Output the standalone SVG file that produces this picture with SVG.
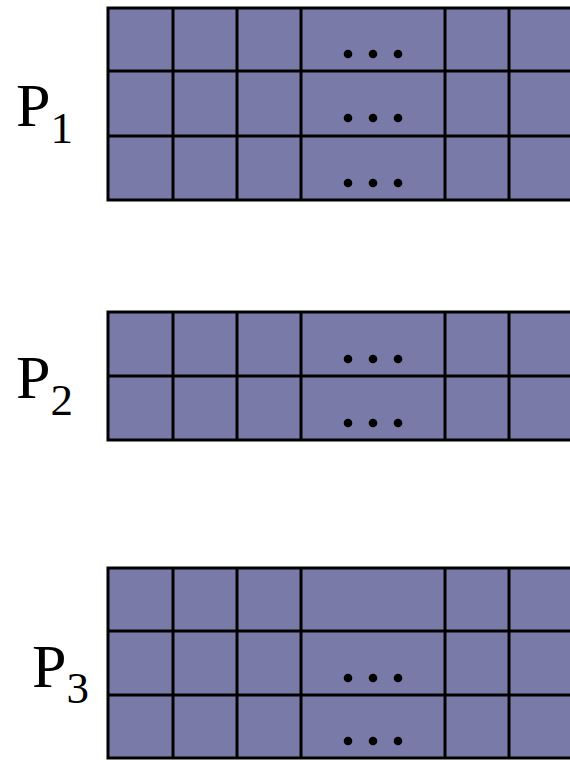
<svg xmlns="http://www.w3.org/2000/svg" width="570" height="760" viewBox="0 0 570 760">
<style>
.bg{fill:#7a7aa8;stroke:#000;stroke-width:3}
.ln{stroke:#000;stroke-width:3;fill:none}
.dot{fill:#000}
.lbl{font-family:"Liberation Serif","Times New Roman",serif;font-size:62px;fill:#000}
.sub{font-size:45px}
</style>
<defs>
<g id="dots">
<circle class="dot" cx="348" cy="0" r="4.3"/>
<circle class="dot" cx="373" cy="0" r="4.3"/>
<circle class="dot" cx="398" cy="0" r="4.3"/>
</g>
</defs>
<rect width="570" height="760" fill="#fff"/>
<g id="p1">
<rect class="bg" x="108" y="8" width="470" height="192"/>
<path class="ln" d="M108 71H578M108 136H578M173 8V200M237 8V200M301 8V200M445 8V200M509 8V200"/>
<use href="#dots" y="54"/>
<use href="#dots" y="118"/>
<use href="#dots" y="183"/>
<text class="lbl" x="16" y="126">P<tspan class="sub" dy="17">1</tspan></text>
</g>
<g id="p2">
<rect class="bg" x="108" y="312" width="470" height="128"/>
<path class="ln" d="M108 376H578M173 312V440M237 312V440M301 312V440M445 312V440M509 312V440"/>
<use href="#dots" y="359"/>
<use href="#dots" y="423"/>
<text class="lbl" x="16" y="398">P<tspan class="sub" dy="17">2</tspan></text>
</g>
<g id="p3">
<rect class="bg" x="108" y="568" width="470" height="190"/>
<path class="ln" d="M108 631H578M108 695H578M173 568V758M237 568V758M301 568V758M445 568V758M509 568V758"/>
<use href="#dots" y="678"/>
<use href="#dots" y="741"/>
<text class="lbl" x="32" y="687">P<tspan class="sub" dy="16">3</tspan></text>
</g>
</svg>
